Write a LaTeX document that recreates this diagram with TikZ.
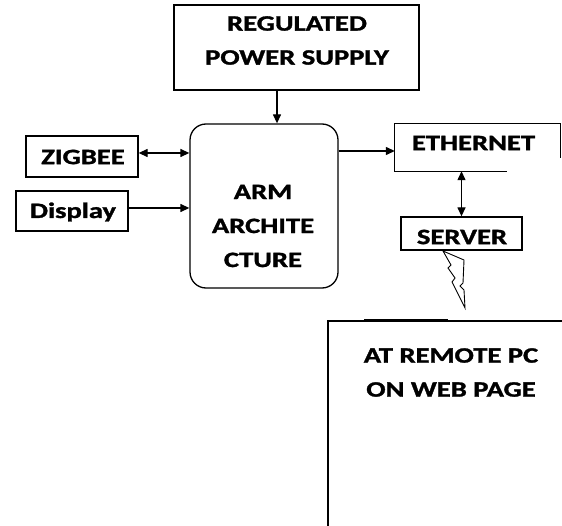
\documentclass[tikz,border=0pt]{standalone}
\usepackage{fontspec}
\setmainfont{Carlito}[BoldFeatures={FakeBold=1.2}]
\usepackage{graphicx}
\usetikzlibrary{arrows.meta,calc}
\newcommand\sx[1]{\scalebox{1.3}[1]{#1}}
\tikzset{
  box/.style={draw, line width=1.3pt, inner sep=0pt},
  lbl/.style={font=\bfseries\fontsize{22}{34}\selectfont, align=center, inner sep=0pt},
  conn/.style={line width=1.3pt, -{Triangle[length=9pt,width=8pt]}},
  bconn/.style={line width=1.3pt, {Triangle[length=9pt,width=8pt]}-{Triangle[length=9pt,width=8pt]}}
}
\begin{document}
\begin{tikzpicture}[x=1pt,y=-1pt]
\useasboundingbox (0,0) rectangle (562,526);
% boxes
\node[box, minimum width=245pt, minimum height=85pt] (psu) at (296.5,47.5) {};
\node[box, rounded corners=16pt, minimum width=148pt, minimum height=164pt] (arm) at (264,206) {};
\node[box, minimum width=112pt, minimum height=41pt] (zig) at (82,156.5) {};
\node[box, minimum width=112pt, minimum height=40pt] (disp) at (72,211) {};
\node[inner sep=0pt, minimum width=165pt, minimum height=47pt] (eth) at (477.5,147.5) {};
\node[box, minimum width=121pt, minimum height=33pt] (srv) at (461.5,233.5) {};
\coordinate (rpc) at (328,321);
% ethernet partial outline
\draw[line width=1.3pt] ($(eth.north east)+(0,34)$) -- (eth.north east) -- (eth.north west) -- (eth.south west) -- ($(eth.south west)+(112,0)$);
% remote pc outline
\draw[line width=1.3pt] (328,526) -- (rpc) -- (562,321);
\draw[line width=3pt] (364,321) -- (448,321);
% texts
\node[lbl] (tpsu) at (297,40.5) {\sx{REGULATED}\\\sx{POWER SUPPLY}};
\node[lbl] (tarm) at (263,226) {\sx{ARM}\\\sx{ARCHITE}\\\sx{CTURE}};
\node[lbl] (tzig) at (83,157) {\sx{ZIGBEE}};
\node[lbl] (tdisp) at (73,212) {\sx{Display}};
\node[lbl] (teth) at (473.5,143) {\sx{ETHERNET}};
\node[lbl] (tsrv) at (462,237) {\sx{SERVER}};
\node[lbl] (trpc) at (451,372.5) {\sx{AT REMOTE PC}\\\sx{ON WEB PAGE}};
% connectors
\coordinate (cp) at (277,0);
\coordinate (cz) at (0,153);
\coordinate (cd) at (0,208);
\coordinate (ce) at (0,151);
\draw[conn] (psu.south -| cp) -- (arm.north -| cp);
\draw[bconn] (zig.east |- cz) -- (arm.west |- cz);
\draw[conn] (disp.east |- cd) -- (arm.west |- cd);
\draw[conn] (arm.east |- ce) -- (eth.west |- ce);
\draw[bconn] (srv.north |- eth.south) -- (srv.north);
% lightning bolt
\draw[line width=0.9pt, line join=miter] (443,251) -- (464,260) -- (463,283) -- (460,286) -- (464,290) -- (465,308) -- (452,282) -- (455,278) -- (448,268) -- (451,265) -- cycle;
\end{tikzpicture}
\end{document}
